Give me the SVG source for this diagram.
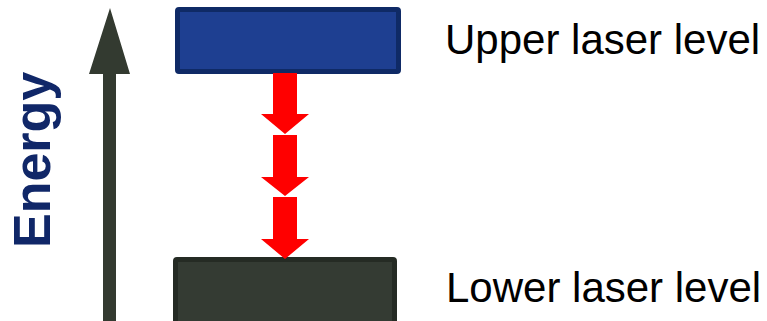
<svg xmlns="http://www.w3.org/2000/svg" width="767" height="321" viewBox="0 0 767 321">
  <style>
    .label { font-family: "Liberation Sans", Arial, sans-serif; font-size: 42px; fill: #000; }
    .axis { font-family: "Liberation Sans", Arial, sans-serif; font-size: 52px; font-weight: bold; fill: #102768; }
    .drop { fill: #ff0000; }
  </style>
  <rect width="767" height="321" fill="#ffffff"/>

  <!-- energy axis -->
  <g id="energy-axis">
    <polygon points="110,8 130,74 116,74 116,321 103,321 103,74 89,74" fill="#333a30"/>
    <text class="axis" transform="translate(50,248) rotate(-90)">Energy</text>
  </g>

  <!-- upper level -->
  <g id="upper-level">
    <rect x="177.5" y="9.5" width="221" height="62" rx="1.5" fill="#1e3f91" stroke="#0f2a66" stroke-width="5"/>
    <text class="label" x="445" y="54">Upper laser level</text>
  </g>

  <!-- lower level -->
  <g id="lower-level">
    <rect x="175.5" y="259.5" width="219" height="64" rx="1.5" fill="#343b33" stroke="#252b24" stroke-width="5"/>
    <text class="label" x="446" y="302">Lower laser level</text>
  </g>

  <!-- transition arrows -->
  <g id="connectors">
    <polygon class="drop" points="273,73 297,73 297,114 309,114 285,134 261,114 273,114"/>
    <polygon class="drop" points="273,135 297,135 297,177 309,177 285,196 261,177 273,177"/>
    <polygon class="drop" points="273,197 297,197 297,239 309,239 285,259 261,239 273,239"/>
  </g>
</svg>
